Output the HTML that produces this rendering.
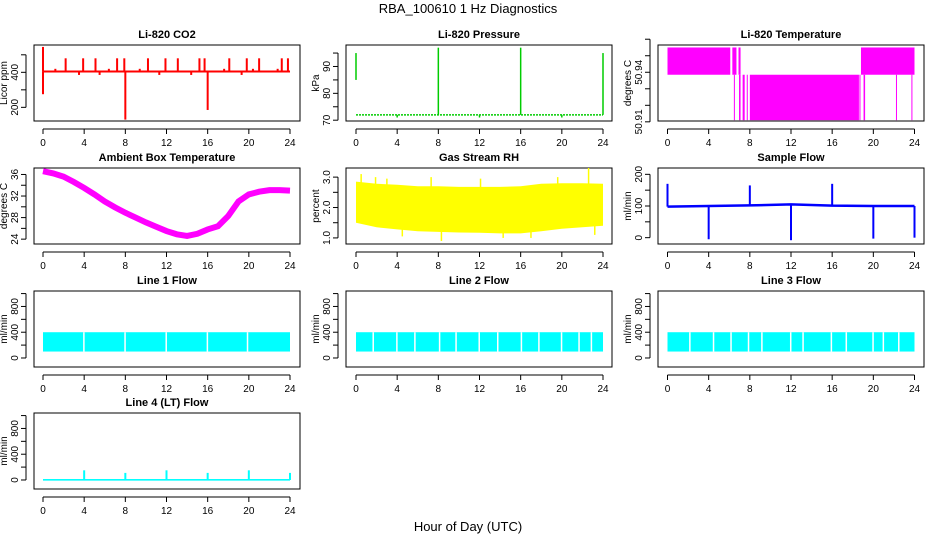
<!DOCTYPE html>
<html><head><meta charset="utf-8"><style>
body{margin:0;background:#fff}
svg{display:block;font-family:"Liberation Sans",sans-serif}
.t{font-size:11px;font-weight:bold}
.k{font-size:10px}
</style></head><body>
<svg id="s" width="936" height="540">
<text x="468" y="13" text-anchor="middle" font-size="13">RBA_100610  1 Hz Diagnostics</text>
<text x="468" y="531" text-anchor="middle" font-size="13">Hour of Day (UTC)</text>
</svg>
<script>
// ---- data ----
const xTicks=[0,4,8,12,16,20,24];
// CO2
const co2Base=405;
const co2SpikeHours=[0,0,2.2,3.9,5.1,7.2,7.9,8.0,10.2,11.9,13.1,15.2,15.7,16.0,18.1,19.8,21.0,23.2,23.8,1.2,3.5,5.5,6.4,9.4,11.3,14.4,17.6,19.3,20.4,22.8];
const co2SpikeVals=[545,275,480,480,480,480,480,130,480,480,480,480,480,185,480,480,480,480,480,420,385,385,420,420,385,385,420,385,420,420];
// Pressure
const presBase=72;
const presSpikeHours=[0,4,8,12,16,20,24];
const presSpikeVals=[95,71,97,71,97,71,95];
// Li-820 temperature segments
const tempSegStart=[0,6.3,6.9,18.8,6.45,6.95,7.3,7.7,8.0,18.65,19.05,22.2,23.7];
const tempSegEnd=[6.1,6.7,7.1,24,6.5,7.1,7.5,7.8,18.6,18.75,19.2,22.25,23.75];
const tempSegLo=[50.9385,50.9385,50.9385,50.9385,50.911,50.911,50.911,50.911,50.911,50.911,50.911,50.911,50.911];
const tempSegHi=[50.955,50.955,50.955,50.955,50.9385,50.9385,50.9385,50.9385,50.9385,50.9385,50.9385,50.9385,50.9385];
// Ambient temperature (hourly)
const ambHours=[0,1,2,3,4,5,6,7,8,9,10,11,12,13,14,15,16,17,18,19,20,21,22,23,24];
const ambVals=[36.6,36.2,35.6,34.6,33.5,32.3,31.0,29.9,28.9,28.0,27.1,26.3,25.5,24.9,24.6,25.0,25.8,26.4,28.3,31.0,32.3,32.8,33.1,33.1,33.0];
// RH band (2-hourly)
const rhHours=[0,2,4,6,8,10,12,14,16,18,20,22,24];
const rhLo=[1.5,1.35,1.28,1.22,1.2,1.18,1.17,1.15,1.15,1.22,1.3,1.35,1.4];
const rhHi=[2.85,2.78,2.75,2.7,2.7,2.68,2.68,2.68,2.7,2.78,2.8,2.8,2.78];
const rhSpikeHours=[0.5,1.9,3.0,8.3,7.3,14.3,19.6,22.6,23.2,4.5,12.1,17.0];
const rhSpikeVals=[3.1,3.0,2.95,0.9,3.0,1.0,3.0,3.3,1.1,1.05,2.95,1.0];
// Sample flow
const sfBase=[98,100,102,105,101,100,100];
const sfHours=[0,4,8,12,16,20,24];
const sfSpikeVals=[170,-5,165,-8,170,-3,0];
// Line flows
const lfLo=100, lfHi=400;
const line1Gaps=[3.9,7.9,11.9,15.9,19.8];
const line2Gaps=[1.6,3.9,5.65,8.05,9.65,11.9,13.7,16,17.7,19.9,21.6,22.8];
const line3Gaps=[2.1,4.4,6.1,7.8,9.1,11.9,13.1,15.85,17.3,19.9,20.9,22.4];
const line4Hours=[4,8,12,16,20,24];
const line4Vals=[150,110,150,110,150,110];

// ---- drawing ----
const S=document.getElementById('s'),NS='http://www.w3.org/2000/svg';
function el(t,a,p){const e=document.createElementNS(NS,t);for(const k in a)e.setAttribute(k,a[k]);(p||S).appendChild(e);return e;}
const colL=[34,346,658],colX0=[43,356,667.5],rowT=[45,168,291,413],W=266,H=76,XS=247/24;
function panel(c,r,title,ylab,ymin,ymax,ticks,labels,name){
  const g=el('g',{});
  
  
  const L=colL[c],T=rowT[r];
  const x=h=>colX0[c]+h*XS, y=v=>T+H-(v-ymin)/(ymax-ymin)*H;
  const tt=el('text',{x:L+W/2,y:T-7,'text-anchor':'middle',class:'t'},g);tt.textContent=title;
  
  
  const box=el('rect',{x:L,y:T,width:W,height:H,fill:'none',stroke:'#000'},g);
  
  
  const xa=el('g',{},g);
  
  
  el('line',{x1:x(0),x2:x(24),y1:T+H+8,y2:T+H+8,stroke:'#000'},xa);
  xTicks.forEach(h=>{el('line',{x1:x(h),x2:x(h),y1:T+H+8,y2:T+H+13,stroke:'#000'},xa);
    const t=el('text',{x:x(h),y:T+H+25,'text-anchor':'middle',class:'k'},xa);t.textContent=h;});
  const ya=el('g',{},g);
  
  
  el('line',{x1:L-8,x2:L-8,y1:y(ticks[0]),y2:y(ticks[ticks.length-1]),stroke:'#000'},ya);
  ticks.forEach((v,i)=>{el('line',{x1:L-13,x2:L-8,y1:y(v),y2:y(v),stroke:'#000'},ya);
    if(labels[i]!==''){const t=el('text',{x:L-16,y:y(v),'text-anchor':'middle',class:'k',transform:`rotate(-90 ${L-16} ${y(v)})`},ya);t.textContent=labels[i];}});
  const yl=el('text',{x:L-27,y:T+H/2,'text-anchor':'middle',class:'k',transform:`rotate(-90 ${L-27} ${T+H/2})`},g);yl.textContent=ylab;
  
  
  const d=el('g',{},g);
  
  
  return {x,y,d};
}
function vline(p,h,v1,v2,col,w){el('line',{x1:p.x(h),x2:p.x(h),y1:p.y(v1),y2:p.y(v2),stroke:col,'stroke-width':w||1.5},p.d);}
function band(p,h1,h2,lo,hi,col){el('rect',{x:p.x(h1),y:p.y(hi),width:Math.max(1,p.x(h2)-p.x(h1)),height:p.y(lo)-p.y(hi),fill:col},p.d);}

// CO2
let p=panel(0,0,'Li-820 CO2','Licor ppm',122,556,[200,300,400,500],['200','','400',''],'co2');
el('line',{x1:p.x(0),x2:p.x(24),y1:p.y(co2Base),y2:p.y(co2Base),stroke:'red','stroke-width':2},p.d);
co2SpikeHours.forEach((h,i)=>vline(p,h,co2Base,co2SpikeVals[i],'red',2));
// Pressure
p=panel(1,0,'Li-820 Pressure','kPa',69.7,98,[70,75,80,85,90,95],['70','','80','','90',''],'pressure');
el('line',{x1:p.x(0),x2:p.x(24),y1:p.y(presBase),y2:p.y(presBase),stroke:'#0c0','stroke-width':1.5,'stroke-dasharray':'2 1'},p.d);
presSpikeHours.forEach((h,i)=>vline(p,h,presSpikeHours[i]===0?85:presBase,presSpikeVals[i],'#0c0',1.5));
// Temperature
p=panel(2,0,'Li-820 Temperature','degrees C',50.9105,50.9565,[50.91,50.92,50.93,50.94,50.95,50.96],['50.91','','','50.94','',''],'li820-temperature');
tempSegStart.forEach((s,i)=>band(p,s,tempSegEnd[i],tempSegLo[i],tempSegHi[i],'#f0f'));
// Ambient
p=panel(0,1,'Ambient Box Temperature','degrees C',23.1,37.2,[24,26,28,30,32,34,36],['24','','28','','32','','36'],'ambient-temperature');
el('polyline',{points:ambHours.map((h,i)=>p.x(h)+','+p.y(ambVals[i])).join(' '),fill:'none',stroke:'#f0f','stroke-width':6,'stroke-linejoin':'miter','stroke-linecap':'butt'},p.d);
// RH
p=panel(1,1,'Gas Stream RH','percent',0.8,3.3,[1.0,1.5,2.0,2.5,3.0],['1.0','','2.0','','3.0'],'gas-stream-rh');
el('polygon',{points:rhHours.map((h,i)=>p.x(h)+','+p.y(rhHi[i])).concat(rhHours.slice().reverse().map((h,i)=>p.x(h)+','+p.y(rhLo[rhHours.length-1-i]))).join(' '),fill:'#ff0'},p.d);
rhSpikeHours.forEach((h,i)=>vline(p,h,2,rhSpikeVals[i],'#ff0',1.5));
// Sample flow
p=panel(2,1,'Sample Flow','ml/min',-20,220,[0,50,100,150,200],['0','','100','','200'],'sample-flow');
el('polyline',{points:sfHours.map((h,i)=>p.x(h)+','+p.y(sfBase[i])).join(' '),fill:'none',stroke:'#00f','stroke-width':2.5},p.d);
sfHours.forEach((h,i)=>vline(p,h,sfBase[i],sfSpikeVals[i],'#00f',2));
// Line flows
function lineFlow(c,r,title,gaps,name){
  const q=panel(c,r,title,'ml/min',-140,1040,[0,200,400,600,800,1000],['0','','400','','800',''],name);
  band(q,0,24,lfLo,lfHi,'#0ff');
  gaps.forEach(h=>el('rect',{x:q.x(h),y:q.y(lfHi),width:1.5,height:q.y(lfLo)-q.y(lfHi),fill:'#fff'},q.d));
}
lineFlow(0,2,'Line 1 Flow',line1Gaps,'line1-flow');
lineFlow(1,2,'Line 2 Flow',line2Gaps,'line2-flow');
lineFlow(2,2,'Line 3 Flow',line3Gaps,'line3-flow');
p=panel(0,3,'Line 4 (LT) Flow','ml/min',-140,1040,[0,200,400,600,800,1000],['0','','400','','800',''],'line4-flow');
band(p,0,24,-10,15,'#0ff');
line4Hours.forEach((h,i)=>vline(p,h,0,line4Vals[i],'#0ff',2));
</script>
</body></html>
